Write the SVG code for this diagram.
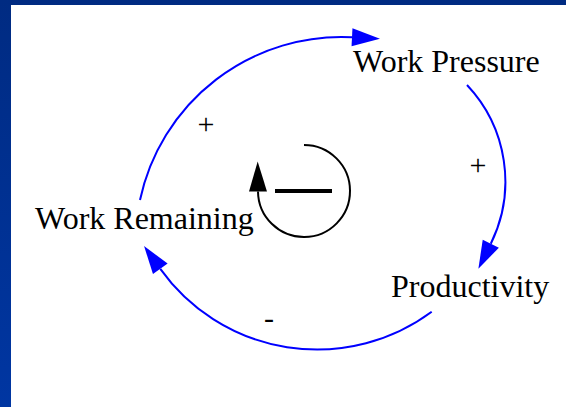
<svg xmlns="http://www.w3.org/2000/svg" width="566" height="407" viewBox="0 0 566 407">
  <defs>
    <linearGradient id="bg" x1="0" y1="0" x2="0" y2="1">
      <stop offset="0" stop-color="#002B82"/>
      <stop offset="1" stop-color="#0036A2"/>
    </linearGradient>
    <marker id="ab" markerUnits="userSpaceOnUse" markerWidth="30" markerHeight="20" refX="0" refY="9" orient="auto" overflow="visible">
      <path d="M0,0 L28,9 L0,18 z" fill="#0000FF"/>
    </marker>
    <marker id="ak" markerUnits="userSpaceOnUse" markerWidth="32" markerHeight="20" refX="0" refY="9" orient="auto" overflow="visible">
      <path d="M0,0 L30,9 L0,18 z" fill="#000000"/>
    </marker>
    <style>
      .lbl { font-family: "Liberation Serif", "Times New Roman", serif; font-size: 32px; fill: #000; }
      .sign { font-family: "Liberation Serif", "Times New Roman", serif; font-size: 30px; fill: #000; text-anchor: middle; }
      .link { fill: none; stroke: #0000FF; stroke-width: 2; }
    </style>
  </defs>

  <rect x="0" y="0" width="566" height="407" fill="url(#bg)"/>
  <rect x="11" y="5" width="555" height="402" fill="#FFFFFF"/>

  <g id="connectors">
    <path class="link" d="M140,200 A206,206 0 0 1 352,37.3" marker-end="url(#ab)"/>
    <path class="link" d="M467,85 A140.5,140.5 0 0 1 490.8,243.7" marker-end="url(#ab)"/>
    <path class="link" d="M431.7,311.7 A192.6,192.6 0 0 1 160.3,268.8" marker-end="url(#ab)"/>
  </g>

  <g id="loop-symbol">
    <path d="M304,145 A46,46 0 1 1 258,191.5" fill="none" stroke="#000" stroke-width="2" marker-end="url(#ak)"/>
    <line x1="275" y1="191" x2="332" y2="191" stroke="#000" stroke-width="4"/>
  </g>

  <g id="node-work-pressure">
    <text class="lbl" x="353" y="72">Work Pressure</text>
  </g>
  <g id="node-work-remaining">
    <text class="lbl" x="35" y="228.5">Work Remaining</text>
  </g>
  <g id="node-productivity">
    <text class="lbl" x="391" y="297">Productivity</text>
  </g>

  <g id="polarities">
    <text class="sign" x="206" y="134">+</text>
    <text class="sign" x="478" y="175">+</text>
    <text class="sign" x="269" y="328">-</text>
  </g>
</svg>
